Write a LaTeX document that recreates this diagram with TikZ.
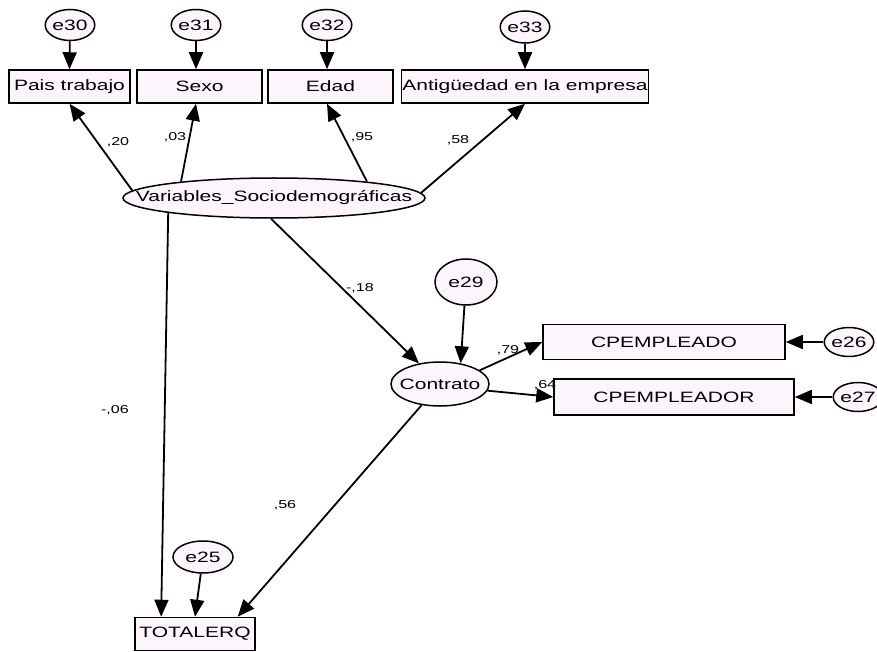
\documentclass[tikz,border=0pt]{standalone}
\usepackage{fontspec}
\setmainfont{Liberation Sans}[FakeStretch=1.4]
\usepackage{tikz}
\usetikzlibrary{arrows.meta,shapes.geometric}
\definecolor{semfill}{RGB}{252,246,252}
\tikzset{
  Obs/.style={draw, fill=semfill, line width=1.5pt, font=\fontsize{15}{17}\selectfont,
              inner sep=1pt, minimum height=33pt},
  Lat/.style={draw, ellipse, fill=semfill, line width=1.5pt,
              font=\fontsize{15}{17}\selectfont, inner sep=0pt},
  Err/.style={draw, ellipse, fill=semfill, line width=1.5pt,
              font=\fontsize{15}{17}\selectfont, inner sep=0pt,
              minimum width=44pt, minimum height=31pt},
  Parr/.style={-{Triangle[length=17pt,width=14pt]}, line width=1.8pt},
  Coef/.style={font=\fontsize{11.5}{13}\selectfont, inner sep=0pt}
}
\begin{document}
\begin{tikzpicture}[x=1pt, y=-1pt]
  \useasboundingbox (0,0) rectangle (877,652);

  % observed variables
  \node[Obs, minimum width=121pt] (pais) at (69.5,86.5) {Pais trabajo};
  \node[Obs, minimum width=125pt] (sexo) at (199.5,86.5) {Sexo};
  \node[Obs, minimum width=125pt] (edad) at (330.5,86.5) {Edad};
  \node[Obs, minimum width=244pt] (antig) at (525,86.5) {Antigüedad en la empresa};
  \node[Obs, minimum width=242pt, minimum height=35pt] (cpo) at (664,342) {CPEMPLEADO};
  \node[Obs, minimum width=240pt, minimum height=36pt] (cpr) at (674,397) {CPEMPLEADOR};
  \node[Obs, minimum width=120pt] (total) at (195,634) {TOTALERQ};

  % latent variables
  \node[Lat, inner xsep=-32pt, minimum width=302pt, minimum height=40pt] (var) at (274,198)
    {Variables\_Sociodemográficas};
  \node[Lat, inner xsep=-8pt, minimum width=98pt, minimum height=44pt] (cont) at (440,384) {Contrato};

  % error terms
  \node[Err] (e30) at (70,25) {e30};
  \node[Err] (e31) at (196,25) {e31};
  \node[Err] (e32) at (327,25) {e32};
  \node[Err, minimum width=46pt, minimum height=32pt] (e33) at (525,27) {e33};
  \node[Err, minimum width=62pt, minimum height=46pt] (e29) at (466,282) {e29};
  \node[Err, minimum width=48pt, minimum height=29pt] (e26) at (849,342) {e26};
  \node[Err, minimum width=48pt, minimum height=29pt] (e27) at (858,397) {e27};
  \node[Err, minimum width=60pt, minimum height=32pt] (e25) at (203,557) {e25};

  \draw[Parr] (e30)--(pais.north);
  \draw[Parr] (e31)--(sexo.north -| e31);
  \draw[Parr] (e32)--(edad.north -| e32);
  \draw[Parr] (e33)--(antig.north);
  \draw[Parr] (e26)--(cpo.east);
  \draw[Parr] (e27)--(cpr.east);
  \draw[Parr] (e25)--(total.north);
  \draw[Parr] (e29)--(cont.45);

  \draw[Parr] (var.177)--(pais.south);
  \draw[Parr] (var.170)--(sexo.south -| e31);
  \draw[Parr] (var.10)--(edad.south -| e32);
  \draw[Parr] (var.2)--(antig.south);
  \draw[Parr] (var.262)--(cont);
  \draw[Parr] (var.188)--(total.153);
  \draw[Parr] (cont)--(total.22);
  \draw[Parr] (cont.19)--(cpo.west);
  \draw[Parr] (cont.-8)--(cpr.west);

  % coefficients
  \node[Coef] (c20) at (118,142) {,20};
  \node[Coef] (c03) at (175,137) {,03};
  \node[Coef] (c95) at (362,137) {,95};
  \node[Coef] (c58) at (458,140) {,58};
  \node[Coef] (c18) at (360,288) {-,18};
  \node[Coef] (c06) at (115,410) {-,06};
  \node[Coef] (c56) at (285,505) {,56};
  \node[Coef] (c79) at (508,350) {,79};
  \node[Coef] (c64) at (545,385) {,64};
\end{tikzpicture}
\end{document}
